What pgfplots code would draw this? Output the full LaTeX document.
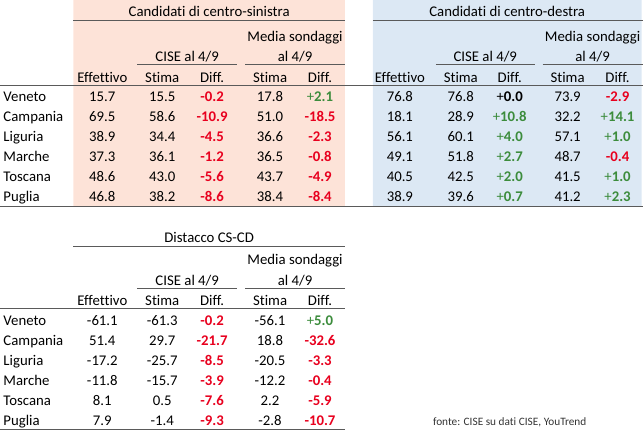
\documentclass[border=0pt]{standalone}
\usepackage{pgfplots}
\pgfplotsset{compat=1.18}
\usepackage{fontspec}
\setmainfont[Ligatures=CommonOff]{Carlito}
\definecolor{pinkbg}{HTML}{FDE3D8}
\definecolor{bluebg}{HTML}{DCE8F4}
\definecolor{rd}{HTML}{E8001E}
\definecolor{gn}{HTML}{3C8C3C}
\definecolor{ln}{HTML}{5A5A5A}
\newcommand{\R}[1]{\textcolor{rd}{\bfseries #1}}
\newcommand{\G}[1]{\textcolor{gn}{+\textbf{#1}}}
\newcommand{\K}[1]{+\textbf{#1}}
\begin{document}
\begin{tikzpicture}
\begin{axis}[x=1bp, y=1bp, xmin=0, xmax=643, ymin=0, ymax=431, y dir=reverse,
  hide axis, clip=false,
  txt/.style={forget plot, draw=none, mark=none, point meta=explicit symbolic,
    nodes near coords={\pgfplotspointmeta},
    nodes near coords style={anchor=base, inner sep=0pt, outer sep=0pt, text=black,
      font=\fontsize{14.8bp}{17bp}\selectfont}},
  txtw/.style={txt, nodes near coords style={anchor=base west}},
  rule/.style={forget plot, draw=ln, line width=1bp, mark=none}]
% frame for bounding box
\addplot[forget plot, draw=none, mark=none] coordinates {(0,0) (643,431)};
% backgrounds
\addplot[forget plot, fill=pinkbg, draw=none, mark=none] coordinates {(73,0) (345,0) (345,206.5) (73,206.5) (73,0)};
\addplot[forget plot, fill=bluebg, draw=none, mark=none] coordinates {(373,0) (642,0) (642,206.5) (373,206.5) (373,0)};
% rules, top
\addplot[rule] coordinates {(73,20.7) (345,20.7)};
\addplot[rule] coordinates {(373,20.7) (643,20.7)};
\addplot[rule] coordinates {(137,65) (237,65)};
\addplot[rule] coordinates {(245,65) (345,65)};
\addplot[rule] coordinates {(436,65) (535,65)};
\addplot[rule] coordinates {(543,65) (643,65)};
\addplot[rule] coordinates {(0,86) (643,86)};
\addplot[rule] coordinates {(0,206.8) (643,206.8)};
% rules, bottom
\addplot[rule] coordinates {(73,247.3) (345,247.3)};
\addplot[rule] coordinates {(137,289) (237,289)};
\addplot[rule] coordinates {(245,289) (345,289)};
\addplot[rule] coordinates {(0,309.3) (345,309.3)};
\addplot[rule] coordinates {(0,430.3) (345,430.3)};
% headers top
\addplot[txt] coordinates {
 (209,16.7) [Candidati di centro-sinistra]
 (507.5,16.7) [Candidati di centro-destra]
 (295,41.5) [Media sondaggi]
 (593,41.5) [Media sondaggi]
 (187,62) [CISE al 4/9]
 (295,62) [al 4/9]
 (485.5,62) [CISE al 4/9]
 (593,62) [al 4/9]
 (102,82.3) [Effettivo] (162,82.3) [Stima] (212,82.3) [Diff.] (270,82.3) [Stima] (320,82.3) [Diff.]
 (400,82.3) [Effettivo] (461,82.3) [Stima] (510,82.3) [Diff.] (568,82.3) [Stima] (618,82.3) [Diff.]
};
% headers bottom
\addplot[txt] coordinates {
 (209,243.3) [Distacco CS-CD]
 (295,264.5) [Media sondaggi]
 (187,285.7) [CISE al 4/9]
 (295,285.7) [al 4/9]
 (102,305.7) [Effettivo] (162,305.7) [Stima] (212,305.7) [Diff.] (270,305.7) [Stima] (320,305.7) [Diff.]
};
% row labels
\addplot[txtw] coordinates {
 (3,101.7) [Veneto] (3,121.8) [Campania] (3,141.9) [Liguria] (3,162.0) [Marche] (3,182.1) [Toscana] (3,202.2) [Puglia]
 (3,326.0) [Veneto] (3,346.1) [Campania] (3,366.2) [Liguria] (3,386.3) [Marche] (3,406.4) [Toscana] (3,426.5) [Puglia]
};
% ---- Candidati di centro-sinistra
\addplot[txt] coordinates {(102,101.7) [15.7] (102,121.8) [69.5] (102,141.9) [38.9] (102,162.0) [37.3] (102,182.1) [48.6] (102,202.2) [46.8]};
\addplot[txt] coordinates {(162,101.7) [15.5] (162,121.8) [58.6] (162,141.9) [34.4] (162,162.0) [36.1] (162,182.1) [43.0] (162,202.2) [38.2]};
\addplot[txt] coordinates {(212,101.7) [\R{-0.2}] (212,121.8) [\R{-10.9}] (212,141.9) [\R{-4.5}] (212,162.0) [\R{-1.2}] (212,182.1) [\R{-5.6}] (212,202.2) [\R{-8.6}]};
\addplot[txt] coordinates {(270,101.7) [17.8] (270,121.8) [51.0] (270,141.9) [36.6] (270,162.0) [36.5] (270,182.1) [43.7] (270,202.2) [38.4]};
\addplot[txt] coordinates {(320,101.7) [\G{2.1}] (320,121.8) [\R{-18.5}] (320,141.9) [\R{-2.3}] (320,162.0) [\R{-0.8}] (320,182.1) [\R{-4.9}] (320,202.2) [\R{-8.4}]};
% ---- Candidati di centro-destra
\addplot[txt] coordinates {(400,101.7) [76.8] (400,121.8) [18.1] (400,141.9) [56.1] (400,162.0) [49.1] (400,182.1) [40.5] (400,202.2) [38.9]};
\addplot[txt] coordinates {(461,101.7) [76.8] (461,121.8) [28.9] (461,141.9) [60.1] (461,162.0) [51.8] (461,182.1) [42.5] (461,202.2) [39.6]};
\addplot[txt] coordinates {(510,101.7) [\K{0.0}] (510,121.8) [\G{10.8}] (510,141.9) [\G{4.0}] (510,162.0) [\G{2.7}] (510,182.1) [\G{2.0}] (510,202.2) [\G{0.7}]};
\addplot[txt] coordinates {(568,101.7) [73.9] (568,121.8) [32.2] (568,141.9) [57.1] (568,162.0) [48.7] (568,182.1) [41.5] (568,202.2) [41.2]};
\addplot[txt] coordinates {(618,101.7) [\R{-2.9}] (618,121.8) [\G{14.1}] (618,141.9) [\G{1.0}] (618,162.0) [\R{-0.4}] (618,182.1) [\G{1.0}] (618,202.2) [\G{2.3}]};
% ---- Distacco CS-CD
\addplot[txt] coordinates {(102,326.0) [-61.1] (102,346.1) [51.4] (102,366.2) [-17.2] (102,386.3) [-11.8] (102,406.4) [8.1] (102,426.5) [7.9]};
\addplot[txt] coordinates {(162,326.0) [-61.3] (162,346.1) [29.7] (162,366.2) [-25.7] (162,386.3) [-15.7] (162,406.4) [0.5] (162,426.5) [-1.4]};
\addplot[txt] coordinates {(212,326.0) [\R{-0.2}] (212,346.1) [\R{-21.7}] (212,366.2) [\R{-8.5}] (212,386.3) [\R{-3.9}] (212,406.4) [\R{-7.6}] (212,426.5) [\R{-9.3}]};
\addplot[txt] coordinates {(270,326.0) [-56.1] (270,346.1) [18.8] (270,366.2) [-20.5] (270,386.3) [-12.2] (270,406.4) [2.2] (270,426.5) [-2.8]};
\addplot[txt] coordinates {(320,326.0) [\G{5.0}] (320,346.1) [\R{-32.6}] (320,366.2) [\R{-3.3}] (320,386.3) [\R{-0.4}] (320,406.4) [\R{-5.9}] (320,426.5) [\R{-10.7}]};
% source
\addplot[txt, nodes near coords style={text=black!80, font=\fontsize{11.3bp}{13bp}\selectfont}] coordinates {(510,426) [fonte: CISE su dati CISE, YouTrend]};
\end{axis}
\end{tikzpicture}
\end{document}
